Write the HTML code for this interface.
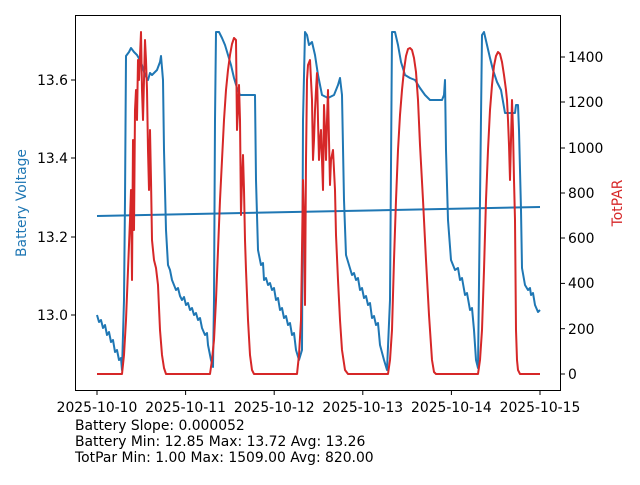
<!DOCTYPE html><html><head><style>body{margin:0;background:#fff}svg{font-family:"DejaVu Sans","Liberation Sans",sans-serif}</style></head><body>
<svg width="640" height="480" xmlns="http://www.w3.org/2000/svg">
<rect width="640" height="480" fill="#fff"/>
<g fill="none" stroke-linejoin="round">
<polyline stroke="#1f77b4" stroke-width="2" points="97,315 99,322 101,320 103,328 105,325 107,335 109,332 111,342 113,340 115,352 117,350 119,360 121,358 122,370 124,300 125,200 126,56 129,52 131,48 134,52 137,55 141,62 145,75 148,80 150,73 152,75 155,72 157,70 160,62 161,56 163,80 164,150 166,230 168,265 170,270 172,280 174,285 176,290 178,288 180,296 182,300 184,297 186,305 188,303 190,310 192,308 194,315 196,313 198,320 200,318 202,328 205,335 207,333 208,345 211,360 213,367 214,300 215,120 216,32 219,32 222,38 225,45 228,55 231,65 234,78 237,88 240,95 243,95 247,95 252,95 255,95 256,180 258,250 261,265 263,263 264,280 266,278 268,285 270,283 272,290 274,288 276,300 278,298 280,310 282,308 284,318 286,316 288,325 290,323 292,335 294,333 296,350 299,360 302,350 303,120 305,32 307,35 309,45 312,42 315,55 318,75 322,95 328,98 334,95 338,85 340,78 342,95 344,200 346,255 349,265 352,275 354,273 356,280 358,278 360,290 362,288 364,298 366,296 368,305 370,303 372,318 374,316 376,325 378,323 380,345 384,360 387,370 390,300 392,32 395,32 398,45 401,62 405,75 410,78 415,80 420,88 425,95 430,100 436,100 442,100 444,95 445,80 446,150 448,220 451,260 455,270 458,268 460,280 462,278 465,295 467,293 470,310 472,308 474,330 476,360 478,368 480,200 482,35 484,32 487,45 490,58 493,70 497,82 501,90 505,113 510,113 515,113 516,105 518,105 519,130 521,210 522,268 525,285 528,290 530,288 531,295 533,293 535,305 538,312 540,310"/>
<polyline stroke="#1f77b4" stroke-width="2" points="97,216 540,207"/>
<polyline stroke="#d62728" stroke-width="2" points="97,374 122,374 124,355 126,320 128,270 130,220 131,190 132,280 133,140 134,230 135,110 136,90 137,120 138,60 139,80 141,32 142,90 143,120 145,40 146,60 147,90 148,150 149,190 150,130 151,180 152,240 154,260 156,268 158,285 160,330 162,355 164,368 166,374 210,374 212,360 214,340 216,300 218,250 220,200 222,160 224,120 226,90 228,70 230,55 232,44 234,38 236,40 237,130 238,110 239,85 240,120 241,215 242,180 243,155 244,190 245,240 246,270 248,320 250,355 252,370 254,374 297,374 299,355 301,320 303,180 304,220 305,305 306,160 307,80 308,65 310,60 312,100 313,160 314,140 315,110 316,90 317,73 318,120 319,160 320,140 321,130 322,160 323,190 324,105 325,130 326,160 327,120 328,90 329,140 330,185 331,160 333,150 335,190 336,235 338,280 340,320 342,350 345,370 348,374 388,374 390,360 392,330 394,260 396,200 398,150 400,115 402,90 404,70 406,56 408,49 410,48 412,50 414,58 416,72 418,100 420,145 423,200 426,260 429,315 432,360 434,372 436,374 478,374 480,360 482,330 484,270 486,200 488,150 490,110 492,85 494,66 496,56 498,52 500,54 502,62 504,75 506,90 507,100 508,120 509,145 510,180 511,140 512,100 513,130 514,180 515,220 516,330 517,360 518,370 520,374 540,374"/>
</g>
<rect x="75.5" y="15.5" width="485" height="375" fill="none" stroke="#000" stroke-width="1"/>
<g stroke="#000" stroke-width="1">
<line x1="75" y1="315" x2="71" y2="315"/><line x1="75" y1="237" x2="71" y2="237"/><line x1="75" y1="158" x2="71" y2="158"/><line x1="75" y1="80" x2="71" y2="80"/>
<line x1="561" y1="374" x2="565" y2="374"/><line x1="561" y1="328.7" x2="565" y2="328.7"/><line x1="561" y1="283.4" x2="565" y2="283.4"/><line x1="561" y1="238" x2="565" y2="238"/><line x1="561" y1="193" x2="565" y2="193"/><line x1="561" y1="148" x2="565" y2="148"/><line x1="561" y1="102" x2="565" y2="102"/><line x1="561" y1="57" x2="565" y2="57"/>
<line x1="97" y1="391" x2="97" y2="395"/><line x1="185.6" y1="391" x2="185.6" y2="395"/><line x1="274.2" y1="391" x2="274.2" y2="395"/><line x1="362.8" y1="391" x2="362.8" y2="395"/><line x1="451.4" y1="391" x2="451.4" y2="395"/><line x1="540" y1="391" x2="540" y2="395"/>
</g>
<g font-size="13.9" fill="#000">
<g text-anchor="end"><text x="68" y="320">13.0</text><text x="68" y="242">13.2</text><text x="68" y="163">13.4</text><text x="68" y="85">13.6</text></g>
<g><text x="568" y="379">0</text><text x="568" y="334">200</text><text x="568" y="288">400</text><text x="568" y="243">600</text><text x="568" y="198">800</text><text x="568" y="153">1000</text><text x="568" y="107">1200</text><text x="568" y="62">1400</text></g>
<g text-anchor="middle"><text x="97" y="412">2025-10-10</text><text x="185.6" y="412">2025-10-11</text><text x="274.2" y="412">2025-10-12</text><text x="362.8" y="412">2025-10-13</text><text x="451.4" y="412">2025-10-14</text><text x="540" y="412">2025-10-15</text></g>
<text x="26" y="203" fill="#1f77b4" text-anchor="middle" transform="rotate(-90 26 203)">Battery Voltage</text>
<text x="622" y="203" fill="#d62728" text-anchor="middle" transform="rotate(-90 622 203)">TotPAR</text>
<text x="75" y="430">Battery Slope: 0.000052</text>
<text x="75" y="446">Battery Min: 12.85 Max: 13.72 Avg: 13.26</text>
<text x="75" y="462">TotPar Min: 1.00 Max: 1509.00 Avg: 820.00</text>
</g>
</svg></body></html>
